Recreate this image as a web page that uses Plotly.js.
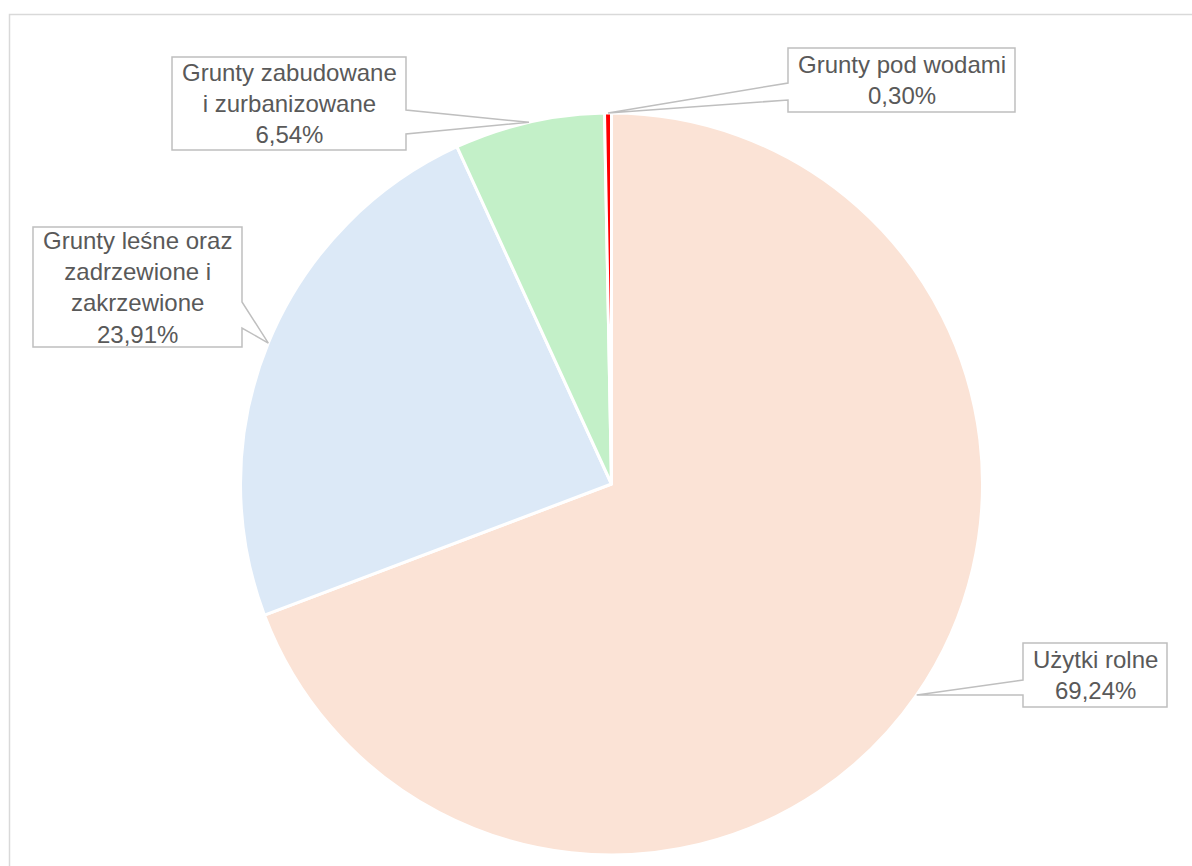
<!DOCTYPE html>
<html>
<head>
<meta charset="utf-8">
<script src="https://cdn.plot.ly/plotly-3.0.1.min.js"></script>
<style>html,body{margin:0;padding:0;background:#fff;}#chart{width:1192px;height:866px;}</style>
</head>
<body>
<div id="chart"></div>
<script>
// ---- data ----
const categories = ['Użytki rolne', 'Grunty leśne oraz zadrzewione i zakrzewione', 'Grunty zabudowane i zurbanizowane', 'Grunty pod wodami'];
const values = [69.24, 23.91, 6.54, 0.30];
const labelLines = [
  ['Użytki rolne'],
  ['Grunty leśne oraz', 'zadrzewione i', 'zakrzewione'],
  ['Grunty zabudowane', 'i zurbanizowane'],
  ['Grunty pod wodami']
];
const colors = ['#FBE3D6', '#DCE9F7', '#C3F0C8', '#FF0000'];

// ---- layout constants (pixels) ----
const W = 1192, H = 866;
const cx = 611.5, cy = 484, R = 371;
// callout boxes: [x0, y0, x1, y1], side of the pointer, pointer base y-range
const boxes = [
  {b: [1023, 643, 1167, 707], side: 'left',  base: [680, 695]},
  {b: [33, 227, 242, 347],    side: 'right', base: [302, 328]},
  {b: [172, 57, 406, 150],    side: 'right', base: [110, 134]},
  {b: [788, 48, 1015, 112],   side: 'left',  base: [83, 100]}
];

const px = x => x / W;
const py = y => 1 - y / H;
const P = (x, y) => px(x).toFixed(5) + ',' + py(y).toFixed(5);

const total = values.reduce((a, b) => a + b, 0);
let cum = 0;
const shapes = [];
const annotations = [];

// frame
shapes.push({type: 'rect', xref: 'paper', yref: 'paper', x0: px(9.5), x1: px(1260), y0: py(14.5), y1: py(940),
  line: {color: '#D9D9D9', width: 1.5}, fillcolor: 'rgba(0,0,0,0)', layer: 'below'});

values.forEach((v, i) => {
  const mid = (cum + v / 2) / total * 2 * Math.PI;
  cum += v;
  const tx = cx + R * Math.sin(mid);
  const ty = cy - R * Math.cos(mid);
  const bx = boxes[i];
  const [x0, y0, x1, y1] = bx.b;
  const [b0, b1] = bx.base;
  let path;
  if (bx.side === 'right') {
    path = 'M' + P(x0, y0) + ' L' + P(x1, y0) + ' L' + P(x1, b0) + ' L' + P(tx, ty) + ' L' + P(x1, b1) + ' L' + P(x1, y1) + ' L' + P(x0, y1) + ' Z';
  } else {
    path = 'M' + P(x0, y0) + ' L' + P(x1, y0) + ' L' + P(x1, y1) + ' L' + P(x0, y1) + ' L' + P(x0, b1) + ' L' + P(tx, ty) + ' L' + P(x0, b0) + ' Z';
  }
  shapes.push({type: 'path', xref: 'paper', yref: 'paper', path: path,
    line: {color: '#BFBFBF', width: 1.5}, fillcolor: '#FFFFFF', layer: 'above'});
  const pct = v.toFixed(2).replace('.', ',') + '%';
  annotations.push({
    xref: 'paper', yref: 'paper', x: px((x0 + x1) / 2), y: py((y0 + y1) / 2),
    xanchor: 'center', yanchor: 'middle', showarrow: false, align: 'center',
    text: labelLines[i].concat([pct]).join('<br>'),
    font: {family: 'Liberation Sans, Arial, sans-serif', size: 24, color: '#595959'}
  });
});

const trace = {
  type: 'pie',
  labels: categories,
  values: values,
  sort: false,
  direction: 'clockwise',
  rotation: 0,
  textinfo: 'none',
  hoverinfo: 'label+percent',
  marker: {colors: colors, line: {color: '#FFFFFF', width: 3}},
  domain: {x: [px(cx - R), px(cx + R)], y: [py(cy + R), py(cy - R)]},
  showlegend: false
};

const layout = {
  width: W, height: H,
  margin: {l: 0, r: 0, t: 0, b: 0},
  paper_bgcolor: '#FFFFFF',
  showlegend: false,
  shapes: shapes,
  annotations: annotations
};

Plotly.newPlot('chart', [trace], layout, {displayModeBar: false, staticPlot: true});
</script>
</body>
</html>
